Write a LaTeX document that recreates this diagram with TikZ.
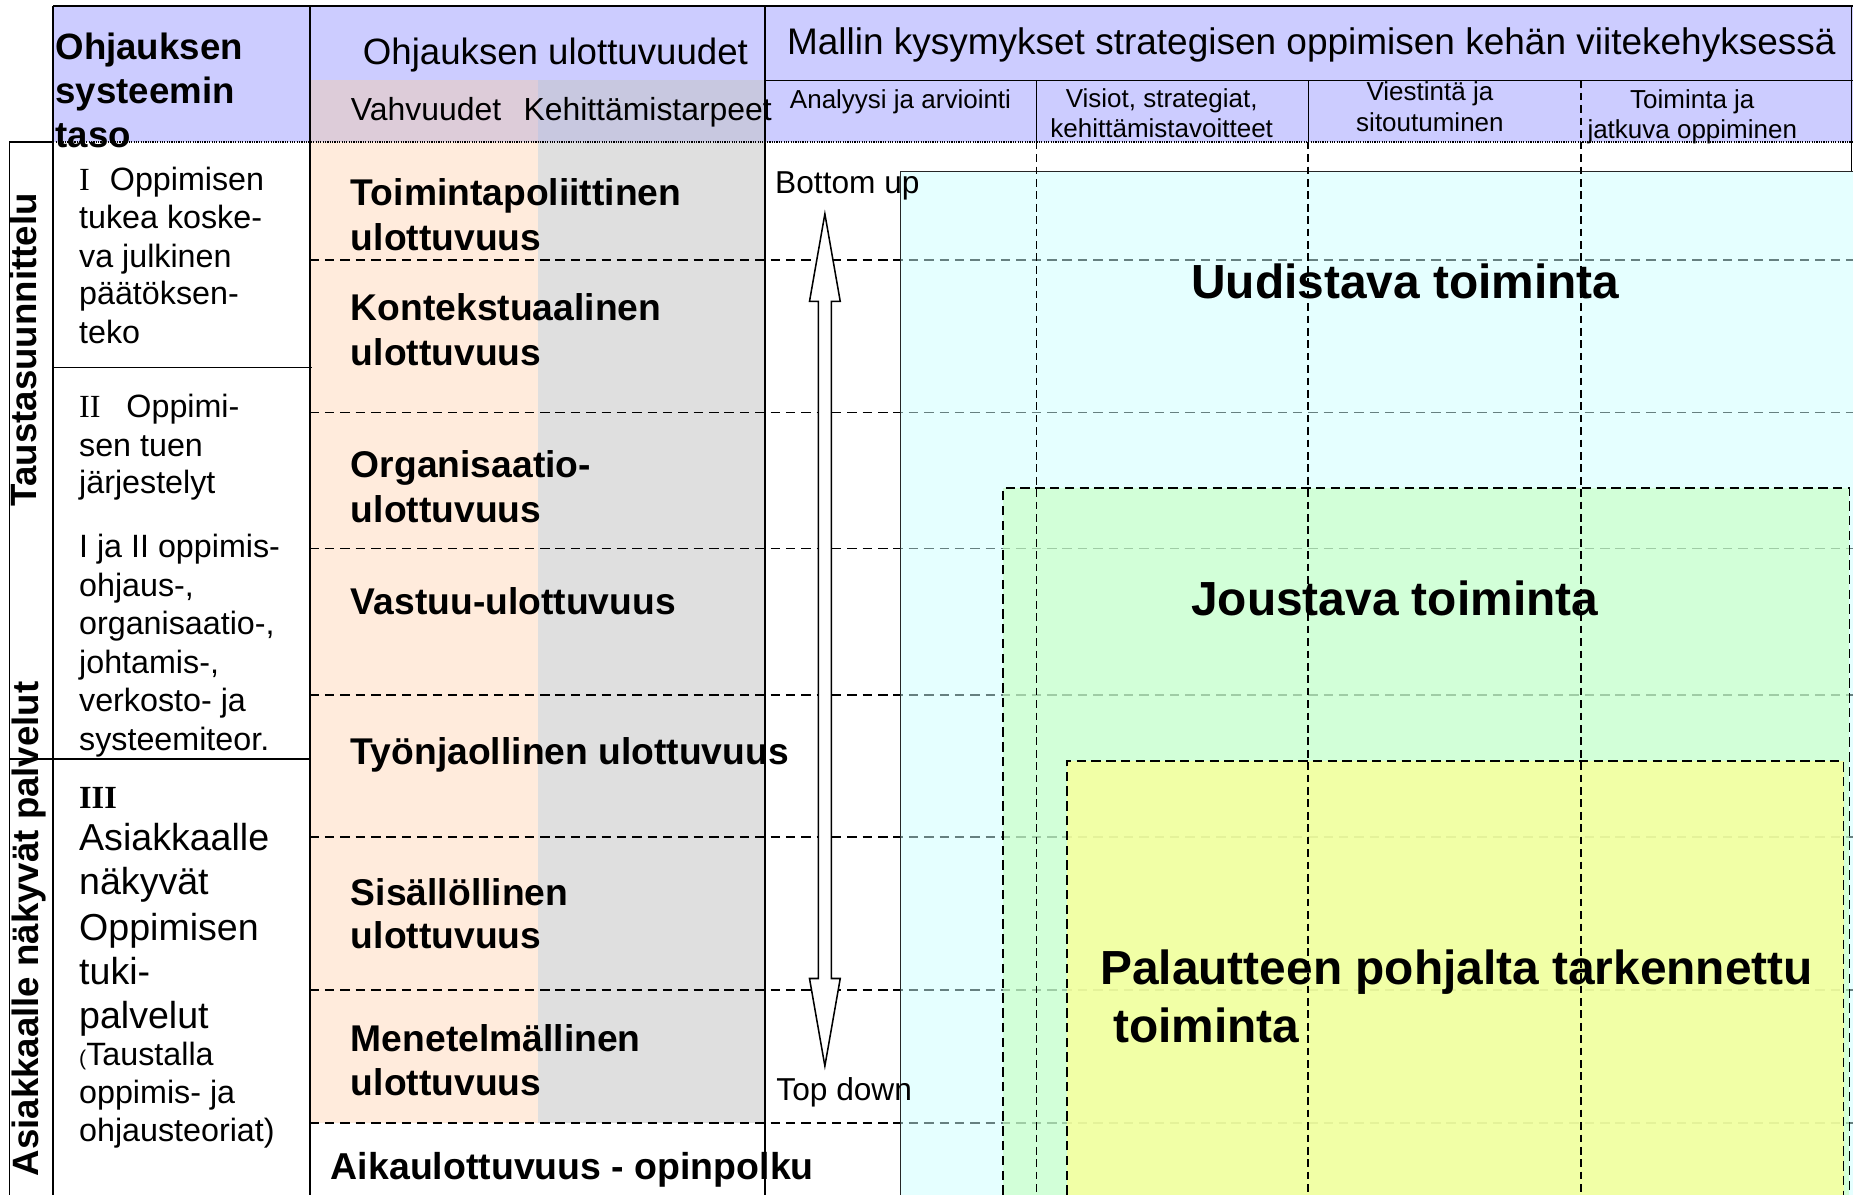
\documentclass[tikz,border=0pt]{standalone}
\usepackage{fontspec}
\setmainfont{Liberation Sans}
\newfontfamily\serifI{Liberation Serif}
\newcommand{\fsz}[1]{\fontsize{#1}{#1}\selectfont}
\definecolor{lav}{RGB}{204,204,255}
\definecolor{pinkhead}{RGB}{221,204,217}
\definecolor{grayhead}{RGB}{200,200,224}
\definecolor{peach}{RGB}{255,235,220}
\definecolor{lgray}{RGB}{223,223,223}
\definecolor{cyanF}{RGB}{204,255,255}
\definecolor{greenF}{RGB}{198,255,190}
\definecolor{yellowF}{RGB}{252,255,149}
\begin{document}
\begin{tikzpicture}[x=1pt,y=-1pt,
  txt/.style={inner sep=0pt, outer sep=0pt, anchor=base west},
  ctxt/.style={inner sep=0pt, outer sep=0pt, anchor=base},
  hdr/.style={font=\bfseries\fsz{31}},
  hsub/.style={font=\fsz{22}},
  col1/.style={font=\fsz{27.3}},
  col1big/.style={font=\fsz{31.8}},
  dim/.style={font=\bfseries\fsz{31.5}},
  title/.style={font=\bfseries\fsz{40.5}},
  hdash/.style={line width=1.4pt, dash pattern=on 8pt off 5pt},
  vdash/.style={line width=1.3pt, dash pattern=on 6.5pt off 4pt},
  rdash/.style={line width=1.5pt, dash pattern=on 8pt off 4.5pt},
  rule/.style={line width=1.6pt},
  thinrule/.style={line width=1.1pt}]
\useasboundingbox (0,0) rectangle (1568,1011);
% backgrounds
\fill[lav] (45,5) rectangle (1568,120);
\fill[pinkhead] (262,68) rectangle (455,120);
\fill[grayhead] (455,68) rectangle (647,120);
\fill[peach] (262,120) rectangle (455,950);
\fill[lgray] (455,120) rectangle (647,950);
% horizontal dashed grid
\foreach \yy in {220,349,464,588,708,838,950}
  \draw[hdash] (262,\yy) -- (1568,\yy);
% nested regions
\fill[cyanF, fill opacity=0.5] (762,145) rectangle (1568,1011);
\draw[thinrule, black!85] (762,1011) -- (762,145) -- (1568,145);
\fill[greenF, fill opacity=0.6] (849,413) rectangle (1565,1011);
\fill[yellowF, fill opacity=0.75] (903,644) rectangle (1560,1011);
\draw[rdash] (849,1011) -- (849,413) -- (1565,413) -- (1565,1011);
\draw[rdash] (903,1011) -- (903,644) -- (1560,644) -- (1560,1011);
% vertical dashed grid
\foreach \xx in {877,1107,1338}
  \draw[vdash] (\xx,120) -- (\xx,1011);
\draw[thinrule] (877,68) -- (877,120);
\draw[thinrule] (1107,68) -- (1107,120);
\draw[vdash] (1338,68) -- (1338,120);
% table rules
\draw[line width=1.8pt] (45,5) -- (1568,5);
\draw[rule] (45,5) -- (45,1011);
\draw[rule] (262,5) -- (262,1011);
\draw[rule] (647,5) -- (647,1011);
\draw[thinrule] (1567,5) -- (1567,145);
\draw[thinrule] (647,68) -- (1568,68);
\draw[line width=1.2pt, dash pattern=on 1pt off 1pt] (45,120) -- (1568,120);
\draw[rule] (8,120) -- (45,120);
\draw[rule] (8,120) -- (8,1011);
\draw[rule] (45,311) -- (264,311);
\draw[rule] (8,642) -- (262,642);
% double arrow
\draw[line width=1.3pt, fill=white] (698,181) -- (711,255) -- (703.5,255) -- (703.5,828) -- (711,828)
  -- (698,902) -- (685,828) -- (692.5,828) -- (692.5,255) -- (685,255) -- cycle;
% header texts
\node[txt, hdr] (h1a) at (47,50) {Ohjauksen};
\node[txt, hdr] (h1b) at (47,88) {systeemin};
\node[txt, hdr] (h1c) at (47,125) {taso};
\node[ctxt, font=\fsz{31}] (h2) at (470,55) {Ohjauksen ulottuvuudet};
\node[txt, font=\fsz{27}] (h2a) at (297,102) {Vahvuudet};
\node[txt, font=\fsz{27}] (h2b) at (443,102) {Kehittämistarpeet};
\node[txt, font=\fsz{31.3}] (h3) at (666,46) {Mallin kysymykset strategisen oppimisen kehän viitekehyksessä};
\node[ctxt, hsub] (s1) at (762,92) {Analyysi ja arviointi};
\node[ctxt, hsub] (s2a) at (983,91) {Visiot, strategiat,};
\node[ctxt, hsub] (s2b) at (983,116) {kehittämistavoitteet};
\node[ctxt, hsub] (s3a) at (1210,85) {Viestintä ja};
\node[ctxt, hsub] (s3b) at (1210,111) {sitoutuminen};
\node[ctxt, hsub] (s4a) at (1432,92) {Toiminta ja};
\node[ctxt, hsub] (s4b) at (1432,117) {jatkuva oppiminen};
% rotated side labels
\node[ctxt, hdr, rotate=90] (side1) at (31,296) {Taustasuunnittelu};
\node[ctxt, hdr, rotate=90] (side2) at (33,786) {Asiakkaalle näkyvät palvelut};
% column 1
\node[txt, col1] (c1a) at (67,161) {{\serifI I}\hspace{0.62em}Oppimisen};
\node[txt, col1] (c1b) at (67,193) {tukea koske-};
\node[txt, col1] (c1c) at (67,226) {va julkinen};
\node[txt, col1] (c1d) at (67,258) {päätöksen-};
\node[txt, col1] (c1e) at (67,291) {teko};
\node[txt, col1] (c2a) at (67,353) {{\serifI II}\hspace{0.8em}Oppimi-};
\node[txt, col1] (c2b) at (67,386) {sen tuen};
\node[txt, col1] (c2c) at (67,418) {järjestelyt};
\node[txt, col1] (c3a) at (67,472) {I ja II oppimis-};
\node[txt, col1] (c3b) at (67,505) {ohjaus-,};
\node[txt, col1] (c3c) at (67,537) {organisaatio-,};
\node[txt, col1] (c3d) at (67,570) {johtamis-,};
\node[txt, col1] (c3e) at (67,602) {verkosto- ja};
\node[txt, col1] (c3f) at (67,635) {systeemiteor.};
\node[txt, font=\serifI\bfseries\fsz{27.3}] (c4a) at (67,684) {III};
\node[txt, col1big] (c4b) at (67,720) {Asiakkaalle};
\node[txt, col1big] (c4c) at (67,757) {näkyvät};
\node[txt, col1big] (c4d) at (67,796) {Oppimisen};
\node[txt, col1big] (c4e) at (67,833) {tuki-};
\node[txt, col1big] (c4f) at (67,870) {palvelut};
\node[txt, col1] (c4g) at (67,902) {{\fsz{18}(}Taustalla};
\node[txt, col1] (c4h) at (67,934) {oppimis- ja};
\node[txt, col1] (c4i) at (67,966) {ohjausteoriat)};
% column 2
\node[txt, dim] (d1a) at (297,174) {Toimintapoliittinen};
\node[txt, dim] (d1b) at (297,212) {ulottuvuus};
\node[txt, dim] (d2a) at (297,271) {Kontekstuaalinen};
\node[txt, dim] (d2b) at (297,309) {ulottuvuus};
\node[txt, dim] (d3a) at (297,404) {Organisaatio-};
\node[txt, dim] (d3b) at (297,442) {ulottuvuus};
\node[txt, dim] (d4) at (297,520) {Vastuu-ulottuvuus};
\node[txt, dim] (d5) at (297,647) {Työnjaollinen ulottuvuus};
\node[txt, dim] (d6a) at (297,766) {Sisällöllinen};
\node[txt, dim] (d6b) at (297,803) {ulottuvuus};
\node[txt, dim] (d7a) at (297,890) {Menetelmällinen};
\node[txt, dim] (d7b) at (297,927) {ulottuvuus};
\node[txt, font=\bfseries\fsz{31.7}] (d8) at (280,998) {Aikaulottuvuus - opinpolku};
% arrow labels
\node[txt, font=\fsz{26.8}] (bu) at (656,164) {Bottom up};
\node[txt, font=\fsz{26.8}] (td) at (657,931) {Top down};
% region titles
\node[txt, title] (t1) at (1008,253) {Uudistava toiminta};
\node[txt, title] (t2) at (1008,521) {Joustava toiminta};
\node[txt, title] (t3a) at (931,833) {Palautteen pohjalta tarkennettu};
\node[txt, title] (t3b) at (942,882) {toiminta};
\end{tikzpicture}
\end{document}
